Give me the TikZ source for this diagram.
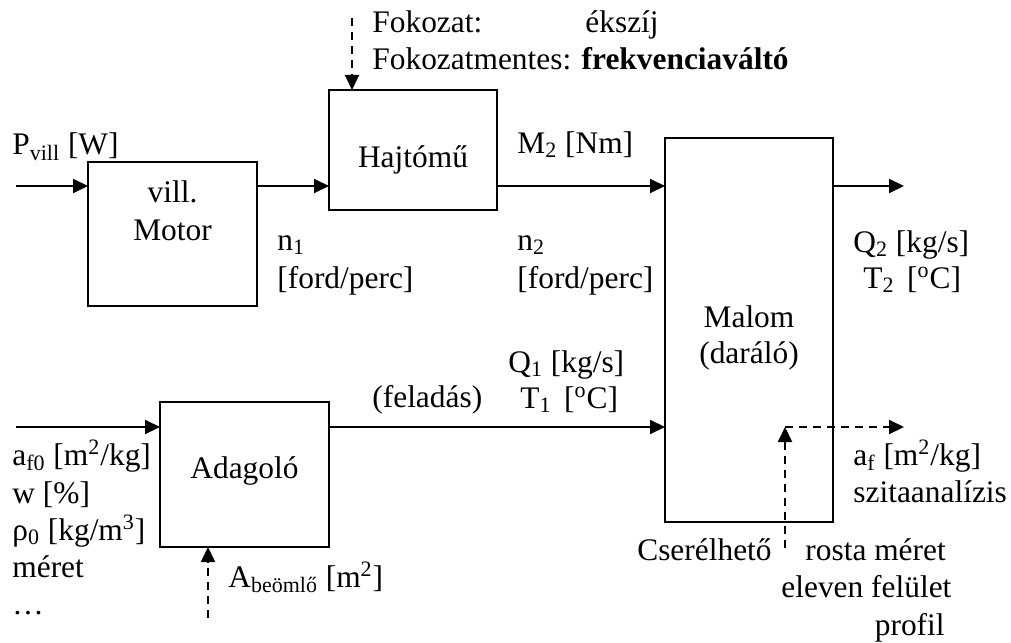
\documentclass[tikz,border=0pt]{standalone}
\usepackage{fontspec}
\setmainfont{Liberation Serif}
\usetikzlibrary{arrows.meta}

\tikzset{
  blk/.style={draw, line width=1pt, inner sep=0pt, outer sep=0pt},
  txt/.style={font=\fontsize{15.7pt}{18.5pt}\selectfont, inner sep=0pt, anchor=base west},
  ctxt/.style={txt, anchor=base},
  etxt/.style={txt, anchor=base east},
  flow/.style={line width=1pt, -{Triangle[length=7.5pt, width=7pt]}},
  ctrl/.style={flow, dash pattern=on 4pt off 3pt}
}

\begin{document}
\begin{tikzpicture}[x=0.5pt, y=-0.5pt]
  \useasboundingbox (0,0) rectangle (1011,642);

  % blocks
  \node[blk, minimum width=84.5pt, minimum height=72pt] (motor) at (172.5,234) {};
  \node[blk, minimum width=84pt, minimum height=60pt] (hajto) at (413,150) {};
  \node[blk, minimum width=84pt, minimum height=192pt] (malom) at (749,330) {};
  \node[blk, minimum width=84.5pt, minimum height=72.5pt] (adag) at (244.5,474.5) {};

  % block captions
  \node[ctxt] (tMotorA) at (172.5,202) {vill.};
  \node[ctxt] (tMotorB) at (172.5,240) {Motor};
  \node[ctxt] (tHajto) at (413,167) {Hajtómű};
  \node[ctxt] (tMalomA) at (749,327) {Malom};
  \node[ctxt] (tMalomB) at (749,363) {(daráló)};
  \node[ctxt] (tAdag) at (244.5,478) {Adagoló};

  % connection points
  \coordinate (pin) at (16,186);
  \coordinate (qout) at (904,186);
  \coordinate (ain) at (16,427);
  \coordinate (fok) at (352,18);
  \coordinate (abe) at (208,618);
  \coordinate (rosta) at (785,548);
  \coordinate (sieve) at (785,427);
  \coordinate (afout) at (904,427);

  % main flows
  \draw[flow] (pin) -- (pin -| motor.west);
  \draw[flow] (motor.east |- pin) -- (hajto.west |- pin);
  \draw[flow] (hajto.east |- pin) -- (malom.west |- pin);
  \draw[flow] (malom.east |- pin) -- (qout);
  \draw[flow] (ain) -- (ain -| adag.west);
  \draw[flow] (adag.east |- ain) -- (malom.west |- ain);

  % control inputs and sieve output
  \draw[ctrl] (fok) -- (fok |- hajto.north);
  \draw[ctrl] (abe) -- (abe |- adag.south);
  \draw[ctrl] (rosta) -- (sieve);
  \draw[ctrl] (sieve) -- (afout);

  % gearbox options
  \node[txt] (lFokA) at (372,33) {Fokozat:};
  \node[txt] (lFokB) at (585,33) {ékszíj};
  \node[txt] (lFokC) at (372,70) {Fokozatmentes: \textbf{frekvenciaváltó}};

  % motor side
  \node[txt] (lP) at (12,155) {P\textsubscript{vill} [W]};
  \node[txt] (lN1a) at (277,250) {n\textsubscript{1}};
  \node[txt] (lN1b) at (277,288) {[ford/perc]};

  % mill input shaft
  \node[txt] (lM2) at (517,153) {M\textsubscript{2} [Nm]};
  \node[txt] (lN2a) at (517,250) {n\textsubscript{2}};
  \node[txt] (lN2b) at (517,288) {[ford/perc]};

  % mill output
  \node[txt] (lQ2) at (853,252) {Q\textsubscript{2} [kg/s]};
  \node[txt] (lT2) at (863,288) {T\textsubscript{2}\hspace{0.4em}[\textsuperscript{o}C]};

  % feed
  \node[txt] (lQ1) at (508,372) {Q\textsubscript{1} [kg/s]};
  \node[txt] (lT1) at (520,408) {T\textsubscript{1}\hspace{0.4em}[\textsuperscript{o}C]};
  \node[txt] (lFel) at (372,407) {(feladás)};

  % raw material properties
  \node[txt] (lAf0) at (12,465) {a\textsubscript{f0} [m\textsuperscript{2}/kg]};
  \node[txt] (lW) at (12,503) {w [\%]};
  \node[txt] (lRho) at (12,540) {ρ\textsubscript{0} [kg/m\textsuperscript{3}]};
  \node[txt] (lMer) at (12,577) {méret};
  \node[txt] (lDots) at (12,614) {…};

  % feeder opening
  \node[txt] (lAbe) at (228,587) {A\textsubscript{beömlő} [m\textsuperscript{2}]};

  % product fineness
  \node[txt] (lAf) at (853,465) {a\textsubscript{f} [m\textsuperscript{2}/kg]};
  \node[txt] (lSzit) at (853,502) {szitaanalízis};

  % exchangeable sieve
  \node[etxt] (lCser) at (772,560) {Cserélhető};
  \node[txt] (lRosta) at (805,560) {rosta méret};
  \node[txt] (lElev) at (781,597) {eleven felület};
  \node[etxt] (lProf) at (945,635) {profil};
\end{tikzpicture}
\end{document}
